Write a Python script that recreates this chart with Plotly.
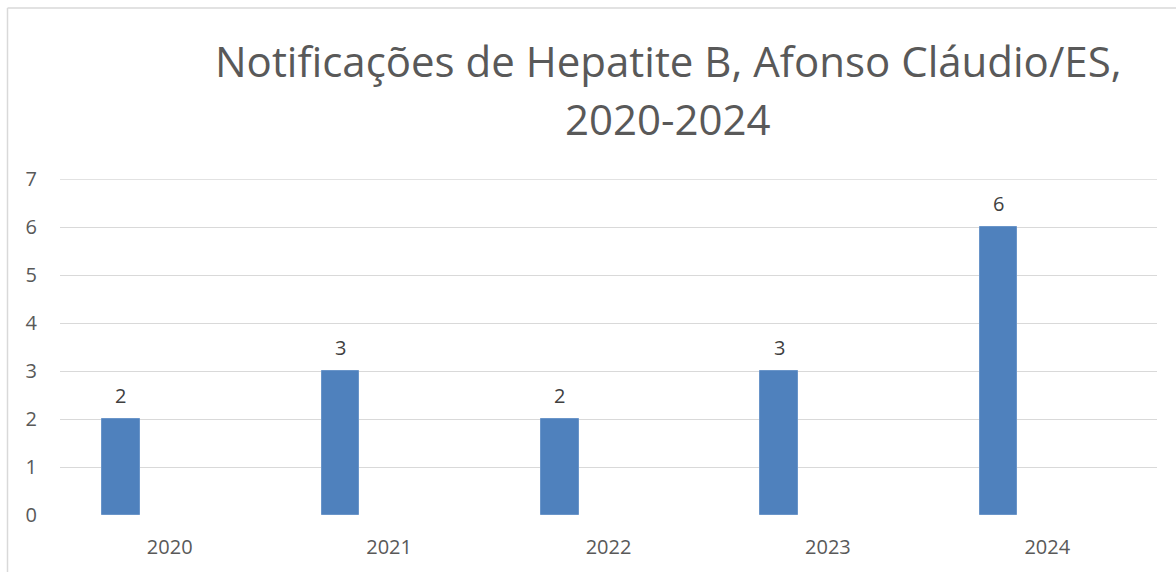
import plotly.graph_objects as go

years = ["2020", "2021", "2022", "2023", "2024"]
notificacoes = [2, 3, 2, 3, 6]
y_ticks = [0, 1, 2, 3, 4, 5, 6, 7]
title_lines = ["Notificações de Hepatite B, Afonso Cláudio/ES,", "2020-2024"]

BAR_OFFSET = -0.308
BAR_WIDTH = 0.172
FONT = "Open Sans"
TXT = "#595959"
GRID = "#d9d9d9"

xpos = list(range(len(years)))

fig = go.Figure()
fig.add_trace(go.Bar(
    x=xpos, y=notificacoes,
    offset=BAR_OFFSET, width=BAR_WIDTH,
    marker=dict(color="#4f81bd", line=dict(color="#6a95c9", width=1)),
    customdata=years, hovertemplate="%{customdata}: %{y}<extra></extra>",
    showlegend=False,
))

for xi, v in zip(xpos, notificacoes):
    fig.add_annotation(
        x=xi + BAR_OFFSET + BAR_WIDTH / 2, y=v, xref="x", yref="y",
        text=str(v), showarrow=False,
        yshift=24, yanchor="middle",
        font=dict(family=FONT, size=20, color="#404040"),
    )

for line, ypx in zip(title_lines, [61, 118]):
    fig.add_annotation(
        text=line, xref="paper", yref="paper",
        x=(668 - 60) / 1097, y=(515 - ypx) / 336,
        xanchor="center", yanchor="middle", showarrow=False,
        font=dict(family=FONT, size=42, color=TXT),
    )

# top gridline (at the edge of the plot area)
fig.add_shape(type="line", xref="paper", yref="y", x0=0, x1=1,
              y0=max(y_ticks), y1=max(y_ticks),
              line=dict(color=GRID, width=1.3), layer="below")

# outer chart border (left and top edges; right/bottom fall outside the frame)
bx0 = (7.5 - 60) / 1097
by1 = (515 - 8) / 336
fig.add_shape(type="line", xref="paper", yref="paper",
              x0=bx0, x1=bx0, y0=-0.3, y1=by1,
              line=dict(color=GRID, width=1.5), layer="below")
fig.add_shape(type="line", xref="paper", yref="paper",
              x0=bx0, x1=1.1, y0=by1, y1=by1,
              line=dict(color=GRID, width=1.5), layer="below")

fig.update_layout(
    width=1176, height=572,
    margin=dict(l=60, r=19, t=179, b=57, autoexpand=False),
    paper_bgcolor="white", plot_bgcolor="white",
    font=dict(family=FONT, size=20, color=TXT),
    xaxis=dict(range=[-0.5, len(years) - 0.5], tickvals=xpos, ticktext=years,
               showgrid=False, showline=False, zeroline=False,
               ticks="", ticklabelstandoff=18, tickfont=dict(size=20, color=TXT)),
    yaxis=dict(range=[0, max(y_ticks)], tickvals=y_ticks, showgrid=True, gridcolor=GRID,
               gridwidth=1.3, zeroline=False, showline=False, ticks="",
               ticklabelstandoff=22, tickfont=dict(size=20, color=TXT)),
    bargap=0,
)

fig.write_html("out.html", config={"displayModeBar": False},
               post_script="document.body.style.margin='0';")
